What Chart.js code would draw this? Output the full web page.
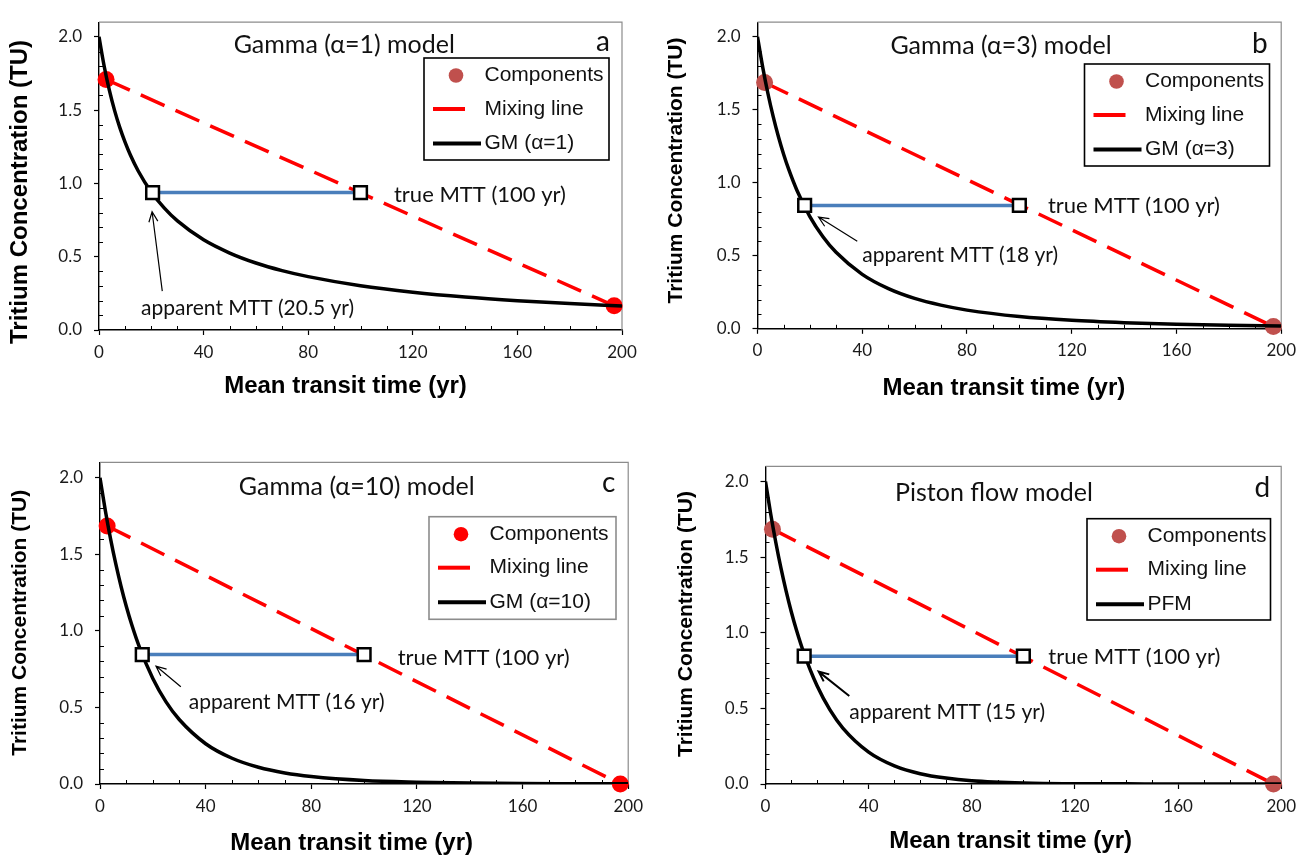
<!DOCTYPE html>
<html>
<head>
<meta charset="utf-8">
<title>Tritium MTT panels</title>
<script src="https://cdn.jsdelivr.net/npm/chart.js@4.4.1/dist/chart.umd.min.js"></script>
<style>
    body { margin: 0; background: #fff; width: 1303px; height: 855px; position: relative; overflow: hidden; }
    canvas { position: absolute; }
</style>
</head>
<body>
<canvas id="panel-a"></canvas>
<canvas id="panel-b"></canvas>
<canvas id="panel-c"></canvas>
<canvas id="panel-d"></canvas>
<script>
// ---------------------------------------------------------------------------
// Data
// ---------------------------------------------------------------------------
const mttYears = [0, 2, 4, 6, 8, 10, 12, 15, 20, 25, 30, 40, 50, 60, 70, 80, 100, 120, 140, 160, 180, 200];
const gm1Conc  = [2.000, 1.798, 1.633, 1.495, 1.379, 1.280, 1.194, 1.085, 0.941, 0.831, 0.744, 0.615, 0.525, 0.457, 0.405, 0.364, 0.302, 0.258, 0.225, 0.200, 0.180, 0.163];
const gm3Conc  = [2.000, 1.791, 1.610, 1.453, 1.315, 1.194, 1.088, 0.951, 0.769, 0.631, 0.524, 0.373, 0.275, 0.208, 0.162, 0.128, 0.084, 0.058, 0.042, 0.031, 0.024, 0.019];
const gm10Conc = [2.000, 1.788, 1.601, 1.435, 1.288, 1.157, 1.041, 0.890, 0.689, 0.536, 0.421, 0.263, 0.168, 0.109, 0.072, 0.049, 0.023, 0.012, 0.006, 0.003, 0.002, 0.001];
const pfmConc  = [2.000, 1.787, 1.597, 1.427, 1.275, 1.139, 1.018, 0.860, 0.649, 0.490, 0.370, 0.211, 0.120, 0.068, 0.039, 0.022, 0.007, 0.002, 0.001, 0.000, 0.000, 0.000];

// the two end-member components (x = MTT, y = TU) per panel
const componentYears = [2.7, 197];
const componentConcA = [1.709, 0.165];
const componentConcB = [1.687, 0.015];
const componentConcC = [1.685, 0.0];
const componentConcD = [1.685, 0.0];

const trueMtt     = 100;
const apparentMtt = [20.5, 18, 16, 15];
const mttConc     = [0.938, 0.845, 0.845, 0.845];

const panelLetters   = ["a", "b", "c", "d"];
const panelTitles    = ["Gamma (α=1) model", "Gamma (α=3) model", "Gamma (α=10) model", "Piston flow model"];
const curveLabels    = ["GM (α=1)", "GM (α=3)", "GM (α=10)", "PFM"];
const apparentLabels = ["apparent MTT (20.5 yr)", "apparent MTT (18 yr)", "apparent MTT (16 yr)", "apparent MTT (15 yr)"];
const trueLabel      = "true MTT (100 yr)";
const xTickLabels    = [0, 40, 80, 120, 160, 200];
const yTickLabels    = [0.0, 0.5, 1.0, 1.5, 2.0];
const xTitle = "Mean transit time (yr)";
const yTitle = "Tritium Concentration (TU)";

// ---------------------------------------------------------------------------
// Panel layout (pixels are canvas-relative, text anchors are in data units)
// ---------------------------------------------------------------------------
const panels = [
    {
        id: "panel-a", canvas: { x: 0, y: 0, w: 650, h: 425 },
        area: { l: 99, r: 622, t: 12.6, b: 330 },
        curve: gm1Conc, comps: componentConcA, dot: "#ff0000", legendDot: "#c0504d",
        yTitle: { x: 20, y: 192, size: 24 }, xTitle: { x: 345.5, y: 386.7 },
        legend: { x: 424, y: 58, w: 185, h: 102, border: "#000" },
        title: [93.8, 1.946], letter: [192.7, 1.966], trueAt: [112.8, 0.922], appAt: [16.1, 0.146],
        arrow: [24.2, 0.265, 20.3, 0.807], arrowWidth: 1.2
    },
    {
        id: "panel-b", canvas: { x: 650, y: 0, w: 653, h: 425 },
        area: { l: 107.5, r: 635, t: 10.9, b: 328.8 },
        curve: gm3Conc, comps: componentConcB, dot: "#c0504d", legendDot: "#c0504d",
        yTitle: { x: 26, y: 170.5, size: 21 }, xTitle: { x: 353.9, y: 388 },
        legend: { x: 434.5, y: 64, w: 185, h: 102, border: "#000" },
        title: [93.0, 1.94], letter: [191.8, 1.954], trueAt: [110.9, 0.844], appAt: [40.0, 0.503],
        arrow: [38.1, 0.60, 23.3, 0.765], arrowWidth: 1.2
    },
    {
        id: "panel-c", canvas: { x: 0, y: 425, w: 650, h: 430 },
        area: { l: 100, r: 629, t: 37.4, b: 359 },
        curve: gm10Conc, comps: componentConcC, dot: "#ff0000", legendDot: "#ff0000",
        yTitle: { x: 20.6, y: 197.8, size: 21 }, xTitle: { x: 351.6, y: 418 },
        legend: { x: 429, y: 91.7, w: 187, h: 102.6, border: "#8c8c8c" },
        title: [97.2, 1.941], letter: [192.6, 1.965], trueAt: [112.7, 0.821], appAt: [33.6, 0.533],
        arrow: [30.6, 0.635, 21.2, 0.770], arrowWidth: 1.2
    },
    {
        id: "panel-d", canvas: { x: 650, y: 425, w: 653, h: 430 },
        area: { l: 115.5, r: 636, t: 41.4, b: 359 },
        curve: pfmConc, comps: componentConcD, dot: "#c0504d", legendDot: "#c0504d",
        yTitle: { x: 36.5, y: 199, size: 21 }, xTitle: { x: 360.6, y: 416.7 },
        legend: { x: 437, y: 93.7, w: 183.5, h: 101.3, border: "#000" },
        title: [88.6, 1.927], letter: [192.7, 1.958], trueAt: [109.7, 0.838], appAt: [32.5, 0.472],
        arrow: [32.5, 0.582, 20.6, 0.743], arrowWidth: 2
    }
];

const TEXT_FONT = "Lato, 'Open Sans', sans-serif";
const ARIAL = "'Liberation Sans', Arial, sans-serif";

function isMajorX(v) { return xTickLabels.indexOf(Math.round(v)) >= 0 && Math.abs(v - Math.round(v)) < 1e-6; }
function isMajorY(v) { return yTickLabels.some((t) => Math.abs(t - v) < 1e-6); }

function drawArrow(ctx, x0, y0, x1, y1, width) {
    const ang = Math.atan2(y1 - y0, x1 - x0);
    const head = 11;
    ctx.lineWidth = width;
    ctx.beginPath();
    ctx.moveTo(x0, y0);
    ctx.lineTo(x1, y1);
    ctx.moveTo(x1 - head * Math.cos(ang - 0.42), y1 - head * Math.sin(ang - 0.42));
    ctx.lineTo(x1, y1);
    ctx.lineTo(x1 - head * Math.cos(ang + 0.42), y1 - head * Math.sin(ang + 0.42));
    ctx.stroke();
}

// frame, minor ticks, legend and all the text labels
function makeOverlay(p, idx) {
    return {
        id: "overlay-" + idx,
        beforeDatasetsDraw(chart) {
            const { ctx, chartArea: a } = chart;
            const xs = chart.scales.x, ys = chart.scales.y;
            ctx.save();
            ctx.strokeStyle = "#8c8c8c";
            ctx.lineWidth = 1.2;
            ctx.beginPath();
            ctx.moveTo(a.left, a.top);
            ctx.lineTo(a.right, a.top);
            ctx.lineTo(a.right, a.bottom);
            ctx.stroke();

            // minor ticks point inward
            ctx.strokeStyle = "#000";
            ctx.lineWidth = 1;
            ctx.beginPath();
            xs.ticks.forEach((t) => {
                if (isMajorX(t.value)) return;
                const px = Math.round(xs.getPixelForValue(t.value)) + 0.5;
                ctx.moveTo(px, a.bottom);
                ctx.lineTo(px, a.bottom - 4);
            });
            ys.ticks.forEach((t) => {
                if (isMajorY(t.value) || t.value > 2.05) return;
                const py = Math.round(ys.getPixelForValue(t.value)) + 0.5;
                ctx.moveTo(a.left, py);
                ctx.lineTo(a.left + 4, py);
            });
            ctx.stroke();
            ctx.restore();
        },
        afterDatasetsDraw(chart) {
            const { ctx } = chart;
            const xs = chart.scales.x, ys = chart.scales.y;
            const X = (v) => xs.getPixelForValue(v);
            const Y = (v) => ys.getPixelForValue(v);
            ctx.save();

            // legend box
            const lg = p.legend;
            const rows = [17.5, 51, 85.5];
            ctx.fillStyle = "#fff";
            ctx.fillRect(lg.x, lg.y, lg.w, lg.h);
            ctx.strokeStyle = lg.border;
            ctx.lineWidth = 1.6;
            ctx.strokeRect(lg.x, lg.y, lg.w, lg.h);

            ctx.fillStyle = p.legendDot;
            ctx.beginPath();
            ctx.arc(lg.x + 32, lg.y + rows[0], 7.3, 0, Math.PI * 2);
            ctx.fill();

            ctx.lineWidth = 4;
            ctx.strokeStyle = "#ff0000";
            ctx.beginPath();
            ctx.moveTo(lg.x + 9, lg.y + rows[1]);
            ctx.lineTo(lg.x + 41, lg.y + rows[1]);
            ctx.stroke();
            ctx.strokeStyle = "#000";
            ctx.beginPath();
            ctx.moveTo(lg.x + 9, lg.y + rows[2]);
            ctx.lineTo(lg.x + 57, lg.y + rows[2]);
            ctx.stroke();

            ctx.fillStyle = "#111";
            ctx.font = "21px " + ARIAL;
            ctx.textAlign = "left";
            ctx.textBaseline = "middle";
            const names = ["Components", "Mixing line", curveLabels[idx]];
            names.forEach((n, i) => ctx.fillText(n, lg.x + 60.5, lg.y + rows[i]));

            // panel title and letter
            ctx.font = "25px " + TEXT_FONT;
            ctx.textAlign = "center";
            ctx.fillText(panelTitles[idx], X(p.title[0]), Y(p.title[1]));
            ctx.font = "28px " + TEXT_FONT;
            ctx.fillText(panelLetters[idx], X(p.letter[0]), Y(p.letter[1]));

            // MTT annotations
            ctx.font = "22px " + TEXT_FONT;
            ctx.textAlign = "left";
            ctx.fillText(trueLabel, X(p.trueAt[0]), Y(p.trueAt[1]));
            ctx.font = "21px " + TEXT_FONT;
            ctx.fillText(apparentLabels[idx], X(p.appAt[0]), Y(p.appAt[1]));

            ctx.strokeStyle = "#000";
            drawArrow(ctx, X(p.arrow[0]), Y(p.arrow[1]), X(p.arrow[2]), Y(p.arrow[3]), p.arrowWidth);

            // axis titles
            ctx.fillStyle = "#000";
            ctx.textAlign = "center";
            ctx.font = "bold 24px " + ARIAL;
            ctx.fillText(xTitle, p.xTitle.x, p.xTitle.y);
            ctx.translate(p.yTitle.x, p.yTitle.y);
            ctx.rotate(-Math.PI / 2);
            ctx.font = "bold " + p.yTitle.size + "px " + ARIAL;
            ctx.fillText(yTitle, 0, 0);
            ctx.restore();
        }
    };
}

function buildPanel(p, idx) {
    const canvas = document.getElementById(p.id);
    canvas.width = p.canvas.w;
    canvas.height = p.canvas.h;
    canvas.style.left = p.canvas.x + "px";
    canvas.style.top = p.canvas.y + "px";

    const curve = mttYears.map((x, i) => ({ x: x, y: p.curve[i] }));
    const comps = componentYears.map((x, i) => ({ x: x, y: p.comps[i] }));
    const mtt = [{ x: apparentMtt[idx], y: mttConc[idx] }, { x: trueMtt, y: mttConc[idx] }];

    const tickFont = { family: TEXT_FONT, size: 17 };

    new Chart(canvas.getContext("2d"), {
        type: "scatter",
        data: {
            datasets: [
                {
                    label: "MTT", data: mtt, showLine: true, order: 0, clip: false,
                    borderColor: "#4a7ebb", borderWidth: 3.5,
                    pointStyle: "rect", pointRadius: 9, pointBackgroundColor: "#fff",
                    pointBorderColor: "#000", pointBorderWidth: 2.5
                },
                {
                    label: curveLabels[idx], data: curve, showLine: true, order: 1,
                    borderColor: "#000", borderWidth: 3.5, pointRadius: 0,
                    cubicInterpolationMode: "monotone"
                },
                {
                    label: "Components", data: comps, showLine: false, order: 2, clip: false,
                    pointRadius: 8.5, pointBackgroundColor: p.dot, pointBorderWidth: 0
                },
                {
                    label: "Mixing line", data: comps, showLine: true, order: 3,
                    borderColor: "#ff0000", borderWidth: 3.5, borderDash: [26, 12], pointRadius: 0
                }
            ]
        },
        options: {
            responsive: false,
            animation: false,
            devicePixelRatio: 1,
            events: [],
            layout: {
                padding: { left: 0, top: p.area.t, right: p.canvas.w - p.area.r, bottom: 0 }
            },
            plugins: { legend: { display: false }, tooltip: { enabled: false } },
            scales: {
                x: {
                    type: "linear", min: 0, max: 200,
                    afterFit: (s) => { s.height = p.canvas.h - p.area.b; },
                    border: { color: "#000", width: 1.4 },
                    grid: {
                        drawOnChartArea: false, tickLength: 5, tickWidth: 1.2,
                        tickColor: (c) => (c.tick && isMajorX(c.tick.value) ? "#000" : "rgba(0,0,0,0)")
                    },
                    ticks: {
                        stepSize: 10, autoSkip: false, maxRotation: 0, minRotation: 0, padding: 7,
                        color: "#1a1a1a", font: tickFont,
                        callback: (v) => (isMajorX(v) ? String(Math.round(v)) : "")
                    }
                },
                y: {
                    type: "linear", min: 0, max: 2.1,
                    afterFit: (s) => { s.width = p.area.l; },
                    border: { color: "#000", width: 1.4 },
                    grid: {
                        drawOnChartArea: false, tickLength: 5, tickWidth: 1.2,
                        tickColor: (c) => (c.tick && isMajorY(c.tick.value) ? "#000" : "rgba(0,0,0,0)")
                    },
                    ticks: {
                        stepSize: 0.1, autoSkip: false, padding: 12,
                        color: "#1a1a1a", font: tickFont,
                        callback: (v) => (isMajorY(v) ? v.toFixed(1) : "")
                    }
                }
            }
        },
        plugins: [makeOverlay(p, idx)]
    });
}

panels.forEach(buildPanel);
</script>
</body>
</html>
